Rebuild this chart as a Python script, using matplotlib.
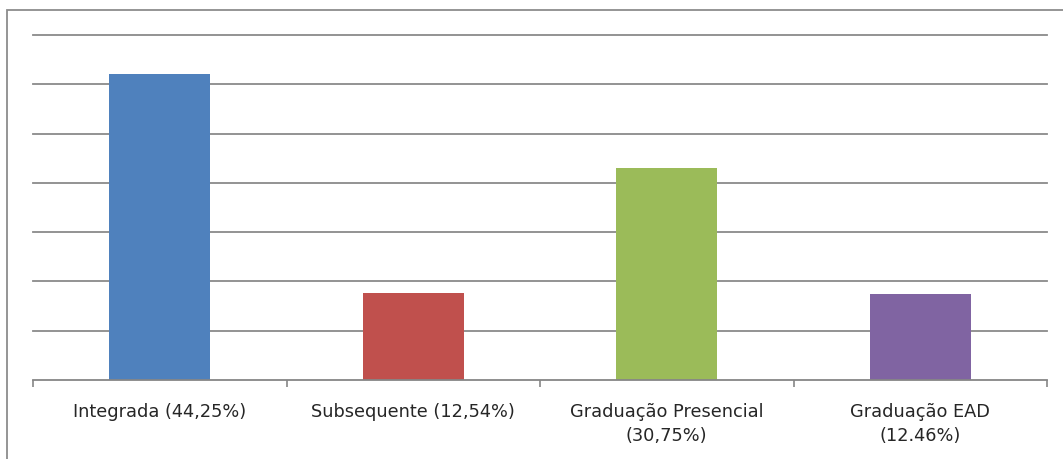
import matplotlib.pyplot as plt
from matplotlib.patches import Rectangle

# category labels and estimated counts (scale step = 100)
categories = [
    'Integrada (44,25%)',
    'Subsequente (12,54%)',
    'Graduação Presencial\n(30,75%)',
    'Graduação EAD\n(12.46%)',
]
values = [621, 176, 431, 175]
colors = ['#4F81BD', '#C0504D', '#9BBB59', '#8064A2']
y_ticks = [100, 200, 300, 400, 500, 600, 700]

W, H = 1063, 459
fig = plt.figure(figsize=(W / 100, H / 100), dpi=100)

# outer chart frame (runs off the right and bottom edges)
fig.patches.append(Rectangle(
    (7 / W, -0.1), 1.2, 1 - 10 / H + 0.1,
    transform=fig.transFigure, fill=False,
    edgecolor='#8c8c8c', linewidth=1.3,
))

ax = fig.add_axes([33 / W, 1 - 380 / H, (1047 - 33) / W, (380 - 35) / H])
x = range(len(categories))
ax.bar(x, values, width=0.4, color=colors, zorder=3)

ax.set_xlim(-0.5, 3.5)
ax.set_ylim(0, 700)
ax.set_yticks(y_ticks)
ax.yaxis.grid(True, color='#8a8a8a', linewidth=1.3)
for gl in ax.get_ygridlines():
    gl.set_clip_on(False)
ax.tick_params(axis='y', left=False, labelleft=False)

ax.set_xticks(list(x))
ax.set_xticklabels(categories, fontsize=12.8, color='#262626',
                   linespacing=1.45)
ax.set_xticks([-0.5, 0.5, 1.5, 2.5, 3.5], minor=True)
ax.tick_params(axis='x', which='major', length=0, pad=16.5)
ax.tick_params(axis='x', which='minor', length=5, width=1.2,
               color='#868686')

for side in ['top', 'left', 'right']:
    ax.spines[side].set_visible(False)
ax.spines['bottom'].set_color('#868686')
ax.spines['bottom'].set_linewidth(1.3)
ax.spines['bottom'].set_zorder(4)

fig.savefig('out.png', dpi=100)
